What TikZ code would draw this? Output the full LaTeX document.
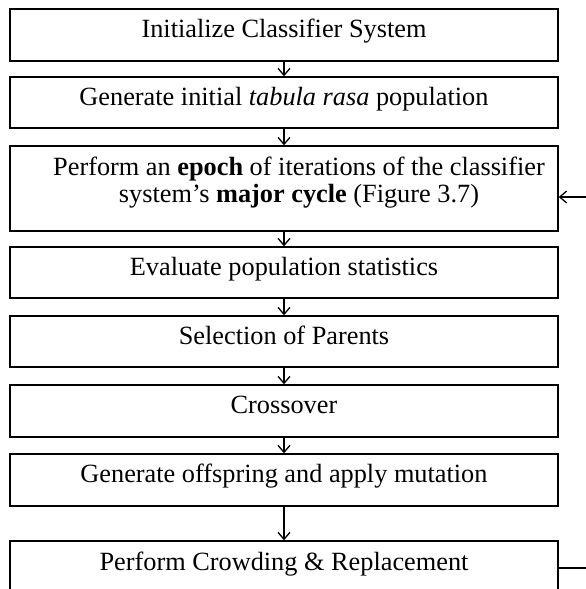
\documentclass[tikz,border=0pt]{standalone}
\usepackage{fontspec}
\setmainfont{Liberation Serif}
\usetikzlibrary{arrows.meta,positioning}
\begin{document}
\begin{tikzpicture}[x=1pt,y=-1pt,
  stage/.style={draw,line width=1.4pt,minimum width=548pt,inner sep=0pt,
    align=center,font=\fontsize{26.3}{27}\selectfont,
    text height=14.5pt,text depth=9.5pt},
  flow/.style={line width=1.3pt,-{Straight Barb[length=7pt,width=12pt,line width=1.3pt]}}]
\useasboundingbox (0,0) rectangle (586,589);
% process stages, top to bottom
\node[stage,minimum height=52pt] (s1) at (284,35) {Initialize Classifier System};
\node[stage,minimum height=51pt] (s2) at (284,102.5) {Generate initial \textit{tabula rasa} population};
\node[stage,minimum height=85pt,text height=40pt,text depth=13pt] (s3) at (284,188.5)
  {\hspace*{30pt}Perform an \textbf{epoch} of iterations of the classifier\\
   \hspace*{30pt}system's \textbf{major cycle} (Figure 3.7)};
\node[stage,minimum height=51pt] (s4) at (284,272.5) {Evaluate population statistics};
\node[stage,minimum height=51pt] (s5) at (284,341.5) {Selection of Parents};
\node[stage,minimum height=52pt] (s6) at (284,411) {Crossover};
\node[stage,minimum height=52pt] (s7) at (284,480) {Generate offspring and apply mutation};
\node[stage,minimum height=54pt] (s8) at (284,568) {Perform Crowding \& Replacement};
% downward flow
\draw[flow] (s1) -- (s2);
\draw[flow] (s2) -- (s3);
\draw[flow] (s3) -- (s4);
\draw[flow] (s4) -- (s5);
\draw[flow] (s5) -- (s6);
\draw[flow] (s6) -- (s7);
\draw[flow] (s7) -- (s8);
% loop back to the next epoch
\coordinate (back) at ([yshift=-8.5pt]s3.east);
\draw[flow] (s8.east) -- ++(50,0) |- (back);
\end{tikzpicture}
\end{document}
